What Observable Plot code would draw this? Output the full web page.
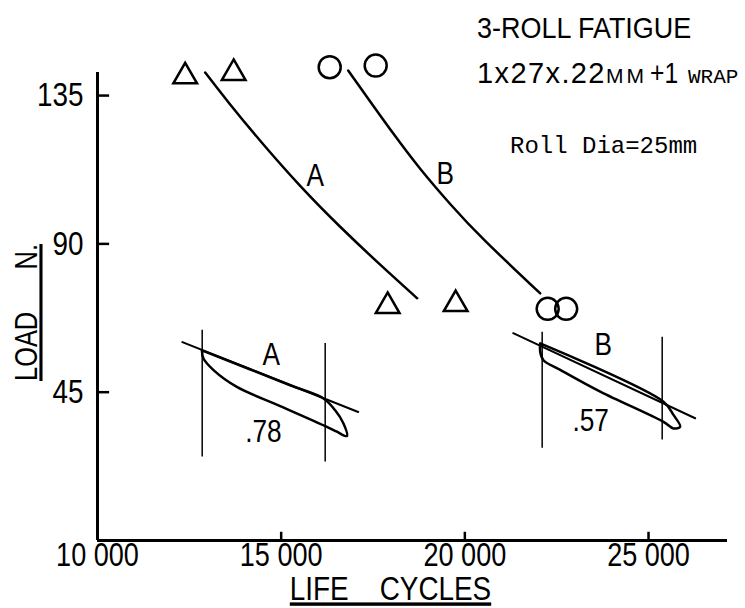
<!DOCTYPE html>
<html>
<head>
<meta charset="utf-8">
<script src="https://cdn.jsdelivr.net/npm/d3@7"></script>
<script src="https://cdn.jsdelivr.net/npm/@observablehq/plot@0.6"></script>
<style>
  body { margin: 0; background: #fff; }
  #wrap { position: relative; width: 745px; height: 608px; overflow: hidden; }
  .ttl { position: absolute; white-space: nowrap; color: #000; font-family: "Liberation Sans", Arial, sans-serif; transform-origin: 0 0; }
  #t1 { left: 477px; top: 13.5px; font-size: 29px; line-height: 29px; transform: scaleX(0.93); }
  #t2a { left: 477px; top: 58.5px; font-size: 29px; line-height: 29px; letter-spacing: 1.4px; }
  #t2b { left: 606px; top: 65.2px; font-size: 21px; line-height: 21px; letter-spacing: 3px; }
  #t2c { left: 650px; top: 58.5px; font-size: 29px; line-height: 29px; transform: scaleX(0.85); }
  #t2d { left: 688px; top: 66.9px; font-family: "Liberation Mono", monospace; font-size: 21px; line-height: 21px; }
  #t3 { left: 510px; top: 134.6px; font-family: "Liberation Mono", monospace; font-size: 24px; line-height: 24px; }
</style>
</head>
<body>
<div id="wrap">
  <div id="chart"></div>
  <div id="t1" class="ttl">3-ROLL FATIGUE</div>
  <div id="t2a" class="ttl">1x27x.22</div>
  <div id="t2b" class="ttl">MM</div>
  <div id="t2c" class="ttl">+1</div>
  <div id="t2d" class="ttl">WRAP</div>
  <div id="t3" class="ttl">Roll Dia=25mm</div>
</div>
<script>
// ---- axis ticks ----
const lifeTicks = [10000, 15000, 20000, 25000];
const lifeTickLabels = ["10 000", "15 000", "20 000", "25 000"];
const loadTicks = [45, 90, 135];
const loadTickLabels = ["45", "90", "135"];

// ---- fitted curves ----
const curveA_life = [12932, 13612, 14429, 15518, 16606, 17695, 18702];
const curveA_load = [142.0, 132.3, 121.3, 107.6, 95.2, 83.7, 73.5];
const curveB_life = [16824, 17423, 18103, 18784, 19601, 20553, 22050];
const curveB_load = [142.6, 133.2, 122.7, 112.8, 102.1, 90.9, 75.0];

// ---- test points ----
const pointsA_life = [12387, 13707, 17899, 19750];
const pointsA_load = [140.8, 141.8, 71.1, 71.7];
const pointsB_life = [16321, 17573, 22255, 22758];
const pointsB_load = [143.6, 144.1, 70.3, 70.3];

// ---- curve labels ----
const curveLabels = ["A", "B"];
const curveLabel_life = [15926, 19464];
const curveLabel_load = [110.8, 111.2];

// ---- inset hysteresis loops ----
const loopA_life = [12842, 15245, 16152, 16470, 16696, 16789, 16517, 16244, 14973, 13794, 13158, 12885, 12842];
const loopA_load = [57.7, 47.1, 43.1, 39.5, 35.5, 31.7, 33.0, 34.5, 40.8, 46.6, 51.7, 55.2, 57.7];
const tangentA_life = [12311, 17097];
const tangentA_load = [60.2, 39.0];
const boundsA_life = [12850, 16198];
const boundsA_low = [25.3, 23.8];
const boundsA_high = [63.8, 59.8];

const loopB_life = [22051, 25407, 25679, 25861, 25679, 25407, 23698, 22609, 22140, 22051, 22051];
const loopB_load = [59.8, 42.1, 38.1, 34.5, 34.0, 36.0, 45.1, 51.7, 54.7, 57.2, 59.8];
const tangentB_life = [21316, 26270];
const tangentB_load = [62.9, 37.1];
const boundsB_life = [22105, 25372];
const boundsB_low = [28.0, 30.5];
const boundsB_high = [63.2, 61.7];

const insetLabels = ["A", ".78", "B", ".57"];
const insetLabel_life = [14728, 14518, 23766, 23425];
const insetLabel_load = [56.5, 33.0, 59.5, 36.4];

// ---- axis titles ----
const yTitle = "LOAD\u00a0\u00a0\u00a0\u00a0\u00a0\u00a0N.";
const xTitle = "LIFE\u00a0\u00a0\u00a0\u00a0CYCLES";

// build tables
const zip = (xs, ys) => xs.map((x, i) => ({life: x, load: ys[i]}));
const curveA = zip(curveA_life, curveA_load);
const curveB = zip(curveB_life, curveB_load);
const ptsA = zip(pointsA_life, pointsA_load);
const ptsB = zip(pointsB_life, pointsB_load);
const lblCurves = curveLabels.map((t, i) => ({t, life: curveLabel_life[i], load: curveLabel_load[i]}));
const loopA = zip(loopA_life, loopA_load);
const loopB = zip(loopB_life, loopB_load);
const tanA = zip(tangentA_life, tangentA_load);
const tanB = zip(tangentB_life, tangentB_load);
const bounds = boundsA_life.map((x, i) => ({life: x, lo: boundsA_low[i], hi: boundsA_high[i]}))
  .concat(boundsB_life.map((x, i) => ({life: x, lo: boundsB_low[i], hi: boundsB_high[i]})));
const lblInset = insetLabels.map((t, i) => ({t, life: insetLabel_life[i], load: insetLabel_load[i]}));

const FONT = "'Liberation Sans', Arial, sans-serif";

const chart = Plot.plot({
  width: 745,
  height: 608,
  marginLeft: 97,
  marginRight: 18,
  marginTop: 72,
  marginBottom: 68,
  style: {fontFamily: FONT, background: "white", color: "black"},
  x: {domain: [10000, 27150]},
  y: {domain: [0, 142]},
  marks: [
    // axes
    Plot.ruleX([10000], {stroke: "black", strokeWidth: 3}),
    Plot.ruleY([0], {stroke: "black", strokeWidth: 3}),
    Plot.ruleY(loadTicks, {y: d => d, x1: 10000, x2: 10330, stroke: "black", strokeWidth: 2.5}),
    Plot.ruleX(lifeTicks.filter(d => d > 10000), {x: d => d, y1: 0, y2: 2.5, stroke: "black", strokeWidth: 2.5}),
    Plot.axisX({ticks: lifeTicks, tickFormat: d => lifeTickLabels[lifeTicks.indexOf(d)], tickSize: 0, tickPadding: 2, fontSize: 33, label: null}),
    Plot.axisY({ticks: loadTicks, tickFormat: d => loadTickLabels[loadTicks.indexOf(d)], tickSize: 0, tickPadding: 14, fontSize: 34, label: null}),
    Plot.text([yTitle], {text: d => d, frameAnchor: "left", textAnchor: "middle", lineAnchor: "middle", dx: -70, dy: 6, rotate: -90, fontSize: 31}),
    Plot.text([xTitle], {text: d => d, frameAnchor: "bottom", textAnchor: "middle", lineAnchor: "middle", dx: -22, dy: 49, fontSize: 34}),
    // fitted curves
    Plot.line(curveA, {x: "life", y: "load", curve: "natural", stroke: "black", strokeWidth: 2.5}),
    Plot.line(curveB, {x: "life", y: "load", curve: "natural", stroke: "black", strokeWidth: 2.5}),
    // points
    Plot.dot(ptsA, {x: "life", y: "load", symbol: "triangle", r: 8.8, fill: "none", stroke: "black", strokeWidth: 2.5}),
    Plot.dot(ptsB, {x: "life", y: "load", symbol: "circle", r: 11, fill: "none", stroke: "black", strokeWidth: 2.5}),
    Plot.text(lblCurves, {x: "life", y: "load", text: "t", fontSize: 32}),
    // insets
    Plot.ruleX(bounds, {x: "life", y1: "lo", y2: "hi", stroke: "black", strokeWidth: 1.5}),
    Plot.line(tanA, {x: "life", y: "load", stroke: "black", strokeWidth: 2}),
    Plot.line(tanB, {x: "life", y: "load", stroke: "black", strokeWidth: 2}),
    Plot.line(loopA, {x: "life", y: "load", curve: "catmull-rom", stroke: "black", strokeWidth: 2.5}),
    Plot.line(loopB, {x: "life", y: "load", curve: "catmull-rom", stroke: "black", strokeWidth: 2.5}),
    Plot.text(lblInset, {x: "life", y: "load", text: "t", fontSize: 32})
  ]
});

document.getElementById("chart").appendChild(chart);
// condensed look: narrow every chart text the way a "narrow" face would
chart.querySelectorAll("text").forEach(t => {
  const L = t.getComputedTextLength();
  if (L > 0) {
    t.setAttribute("textLength", (L * 0.82).toFixed(1));
    t.setAttribute("lengthAdjust", "spacingAndGlyphs");
  }
  if (t.textContent === xTitle || t.textContent === yTitle) t.style.textDecoration = "underline";
});
</script>
</body>
</html>
